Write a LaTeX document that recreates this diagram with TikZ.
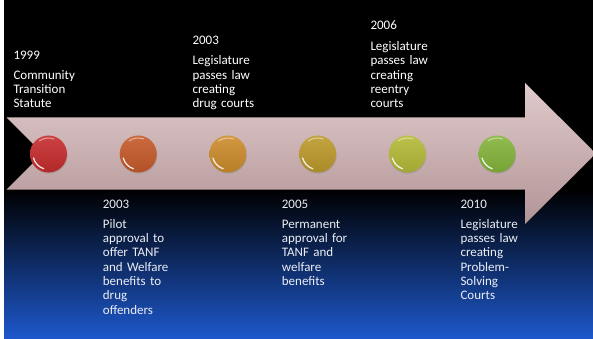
\documentclass[tikz,border=0pt]{standalone}
\usepackage{fontspec}
\setmainfont{Carlito}
\usepackage{tikz}
\usetikzlibrary{positioning, shadows, calc}
\definecolor{slideblue}{RGB}{29,88,204}
\definecolor{arrowlight}{RGB}{224,202,203}
\definecolor{arrowdark}{RGB}{178,148,150}
\definecolor{dotred}{RGB}{198,44,44}
\definecolor{dotorange}{RGB}{198,90,42}
\definecolor{dotamber}{RGB}{204,140,44}
\definecolor{dotolive}{RGB}{188,154,44}
\definecolor{dotlime}{RGB}{180,186,56}
\definecolor{dotgreen}{RGB}{132,180,60}
\definecolor{softwhite}{RGB}{236,238,244}

\begin{document}
\begin{tikzpicture}[
    x=1pt, y=-1pt,
    node distance=52.3pt,
    dot/.style={circle, minimum size=37pt, inner sep=0pt, top color=#1!90!white, bottom color=#1!90!black,
        drop shadow={opacity=0.35, shadow xshift=0.6pt, shadow yshift=-1.2pt},
        path picture={
            \draw[white, line width=1.3pt, opacity=0.85, line cap=round] ($(path picture bounding box.center)+(108:15.5)$) arc[start angle=108, end angle=165, radius=15.5];
            \draw[white, line width=1pt, opacity=0.5, line cap=round] ($(path picture bounding box.center)+(235:16)$) arc[start angle=235, end angle=290, radius=16];
        }},
    year/.style={anchor=base west, inner sep=0pt, text=white, font=\fontsize{13}{14.3}\selectfont},
    desc/.style={year, text width=80pt, align=left},
    lowyear/.style={year, text=softwhite},
    lowdesc/.style={desc, text=softwhite}
]
\useasboundingbox (0,0) rectangle (593,339);
\clip (0,0) rectangle (593,339);

% Slide background
\fill[white] (0,0) rectangle (593,339);
\fill[black] (4,0) rectangle (593,189.5);
\fill[top color=black, bottom color=slideblue] (4,189.5) rectangle (593,339);

% Timeline arrow
\fill[top color=arrowlight, bottom color=arrowdark] (6.5,117.5) -- (525,117.5) -- (525,83) -- (596,153.5)
    -- (525,224) -- (525,189.5) -- (6.5,189.5) -- (42.5,153.5) -- cycle;

% Milestones along the arrow
\node[dot=dotred] (statute) at (48.5,154) {};
\node[dot=dotorange, right=of statute] (pilot) {};
\node[dot=dotamber, right=of pilot] (drugcourts) {};
\node[dot=dotolive, right=of drugcourts] (permanent) {};
\node[dot=dotlime, right=of permanent] (reentry) {};
\node[dot=dotgreen, right=of reentry] (solving) {};

% Labels above the arrow
\node[year] (statuteyear) at (13.3,59.3) {1999};
\node[desc] (statutetext) at (13.3,79.3) {Community\\Transition\\Statute};

\node[year] (drugyear) at (192.3,44.3) {2003};
\node[desc] (drugtext) at (192.3,65) {Legislature\\passes law\\creating\\drug courts};

\node[year] (reentryyear) at (370.3,30) {2006};
\node[desc] (reentrytext) at (370.3,50.7) {Legislature\\passes law\\creating\\reentry\\courts};

% Labels below the arrow
\node[lowyear] (pilotyear) at (102.7,208.3) {2003};
\node[lowdesc] (pilottext) at (102.7,228.3) {Pilot\\approval to\\offer TANF\\and Welfare\\benefits to\\drug\\offenders};

\node[lowyear] (permanentyear) at (281.7,208.3) {2005};
\node[lowdesc] (permanenttext) at (281.7,228.3) {Permanent\\approval for\\TANF and\\welfare\\benefits};

\node[lowyear] (solvingyear) at (460.3,208.3) {2010};
\node[lowdesc] (solvingtext) at (460.3,228.3) {Legislature\\passes law\\creating\\Problem-\\Solving\\Courts};

\end{tikzpicture}
\end{document}
